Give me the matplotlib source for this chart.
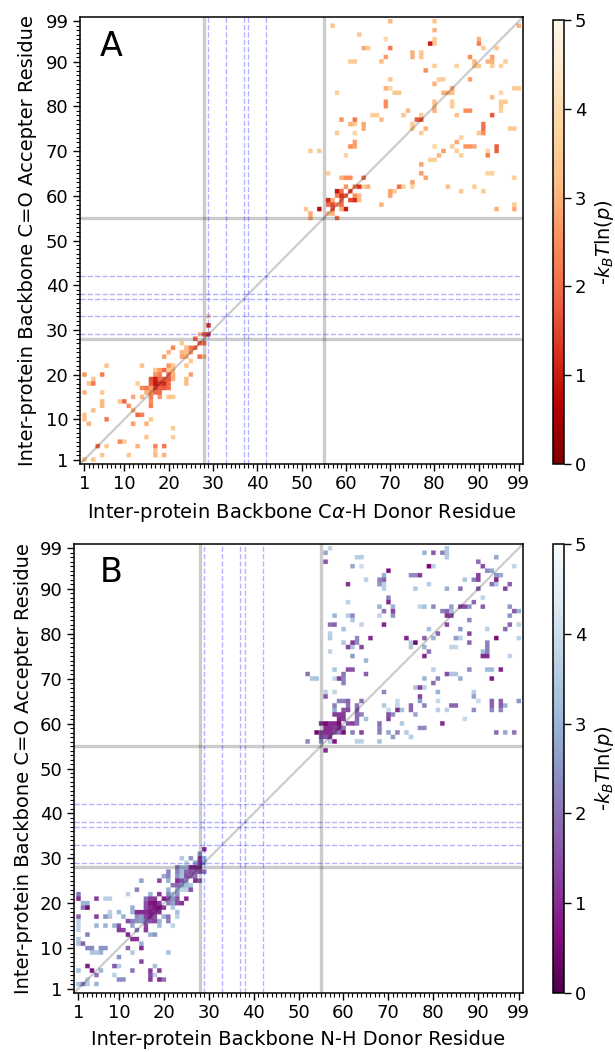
import numpy as np
import matplotlib
matplotlib.use('Agg')
import matplotlib.pyplot as plt

# (donor, acceptor, -kT ln p)
a_low = [
 (29,33,3.7),(29,31,1.2),(27,29,3.3),(28,29,1.9),(29,29,1.5),(26,28,2.0),(23,27,3.5),(27,27,1.9),(28,27,2.2),
 (21,26,2.4),(24,26,3.2),(25,26,2.2),(26,26,2.0),(20,25,3.0),(23,25,3.1),(24,25,3.2),(25,25,2.6),
 (19,24,2.8),(23,24,2.8),(24,24,3.0),(27,24,2.0),(28,24,3.3),(25,23,3.5),
 (6,22,3.3),(14,22,3.3),(20,22,2.6),(21,22,3.5),(24,22,3.4),
 (17,21,3.4),(18,21,2.7),(19,21,2.0),(20,21,3.4),(21,21,3.3),
 (1,20,2.6),(5,20,2.2),(17,20,2.6),(18,20,2.3),(20,20,1.9),(21,20,3.0),(25,20,2.7),
 (3,19,3.3),(16,19,1.6),(17,19,1.0),(18,19,1.9),(19,19,1.8),(20,19,1.7),(21,19,3.0),(24,19,3.2),
 (2,18,3.3),(3,18,2.2),(13,18,3.6),(16,18,1.7),(17,18,0.9),(18,18,1.4),(19,18,1.2),(20,18,2.0),(24,18,3.2),
 (14,17,2.4),(15,17,2.2),(16,17,2.7),(17,17,1.4),(18,17,1.8),(19,17,1.7),(20,17,2.0),
 (1,16,3.0),(5,16,3.5),(15,16,3.0),(16,16,2.6),(17,16,1.9),(18,16,2.0),
 (12,15,2.9),(14,15,3.1),(16,15,2.2),(18,15,2.6),(20,15,3.4),(21,15,3.5),
 (5,14,3.1),(9,14,3.4),(10,14,1.9),(16,14,2.5),(5,13,3.1),(11,13,2.5),(16,13,2.3),
 (3,12,3.2),(12,12,3.0),(1,11,3.3),(13,11,1.9),(14,11,2.3),(1,10,3.3),(6,10,2.2),(16,10,3.5),
 (2,9,3.0),(12,9,2.7),(15,9,3.0),(21,8,3.5),(15,6,3.4),(21,6,3.6),(9,5,2.4),(10,5,3.5),
 (4,4,2.0),(6,4,3.5),(13,4,3.0),(17,4,2.4),(19,4,2.2),(17,3,3.5),
 (5,2,3.4),(11,2,3.4),(17,2,3.1),(19,2,3.0),(1,1,3.4),(3,1,3.4),
]
a_high = [
 (57,98,3.3),(70,99,3.1),(80,99,3.4),(99,98,3.0),(80,97,3.0),(63,96,3.4),(69,95,3.9),(80,95,3.5),(90,95,3.0),
 (79,94,1.0),(80,94,3.5),(90,94,2.3),(64,93,2.9),(65,93,3.5),(70,93,2.2),(91,93,3.5),(94,93,3.5),
 (75,92,3.0),(75,91,3.0),(77,92,3.4),(77,91,3.4),(69,91,2.7),(88,91,2.5),(93,91,2.8),
 (61,90,3.5),(62,90,3.5),(68,90,3.2),(89,90,3.1),(92,90,3.0),(93,90,3.0),(96,90,3.5),
 (89,89,3.4),(90,89,3.4),(93,89,3.6),(95,89,3.7),(80,89,3.6),(85,89,3.6),(78,88,2.5),
 (70,86,3.4),(81,86,3.6),(82,86,3.6),(88,86,2.8),(80,85,3.0),(69,84,3.0),(70,84,3.8),(98,84,3.5),(99,84,3.5),(84,84,2.9),
 (71,83,3.4),(72,83,3.4),(58,83,3.6),(82,83,3.0),(83,83,3.0),(84,83,3.3),(95,83,3.8),(93,82,3.1),
 (69,81,2.5),(69,80,2.5),(80,81,3.3),(80,80,3.3),(84,81,3.6),(84,80,3.6),(95,81,3.5),(96,81,3.5),(95,80,3.5),(95,79,3.7),
 (74,79,3.1),(80,79,3.0),(87,79,2.5),(88,79,2.5),(73,78,3.4),(66,78,3.6),(67,78,3.6),(77,78,3.5),(85,78,3.3),(93,78,1.7),
 (59,77,2.6),(62,77,2.1),(68,77,3.1),(76,77,1.7),(77,77,1.7),(61,76,3.0),(62,76,3.5),(64,76,2.9),(64,75,2.9),
 (75,76,3.5),(75,75,3.5),(91,76,2.1),(91,75,2.1),(78,75,3.0),(97,75,3.5),(98,75,3.5),
 (58,74,3.5),(62,74,3.8),(77,74,3.5),(90,74,3.4),(91,74,2.5),(86,73,3.7),(85,72,2.9),(62,72,2.8),(62,71,2.8),(61,71,2.5),
 (80,71,3.8),(84,71,3.5),(87,71,2.6),(88,71,2.6),(89,71,2.9),(94,71,1.8),(94,70,1.8),
 (82,70,2.7),(85,70,3.6),(92,70,3.7),(92,69,2.3),(52,70,3.5),(54,70,3.5),(60,69,3.7),(81,69,3.1),(86,69,3.6),
 (79,68,3.6),(80,68,3.6),(77,67,2.8),(77,65,2.7),(78,64,2.8),(56,65,3.7),(92,65,3.7),(93,65,3.7),
 (59,64,3.0),(60,64,2.5),(61,64,2.5),(64,64,2.0),(98,64,3.6),(75,63,2.8),(75,62,3.8),(73,62,3.6),(72,62,2.0),
 (65,62,3.0),(64,62,3.7),(60,62,2.6),(62,62,2.2),(63,62,1.3),(83,62,3.2),(89,62,3.5),
 (70,61,2.8),(70,60,2.8),(71,61,3.5),(86,61,3.5),(91,61,3.5),(58,61,0.9),(59,61,2.0),(61,61,1.5),
 (58,60,2.3),(59,60,1.3),(60,60,1.9),(62,60,2.5),(63,60,3.2),(56,59,1.2),(57,59,3.0),(59,59,1.9),(61,59,1.6),(62,59,1.2),(63,59,3.2),
 (56,58,2.0),(57,58,1.6),(58,58,2.6),(59,58,2.0),(68,58,3.0),(98,58,3.5),
 (51,57,3.5),(54,57,0.8),(57,57,1.7),(59,57,3.0),(60,57,1.0),(94,57,3.0),(98,57,2.9),
 (52,56,2.9),(56,56,3.2),(57,56,3.0),(52,55,3.0),(58,55,2.2),
]
b_low = [
 (29,32,1.0),(28,31,2.5),(24,30,3.5),(26,30,2.5),(28,30,1.2),(29,30,3.3),(25,29,3.8),(27,29,2.8),(28,29,1.2),(29,29,2.8),
 (23,28,2.2),(24,28,3.3),(25,28,3.3),(26,28,1.0),(27,28,0.9),(28,28,1.5),
 (21,27,2.3),(23,27,2.2),(24,27,3.2),(25,27,1.8),(26,27,1.5),(27,27,1.7),(28,27,1.6),(29,27,2.0),
 (20,26,2.8),(21,26,2.3),(23,26,2.5),(24,26,3.3),(25,26,1.5),(26,26,1.8),(27,26,2.0),
 (15,25,2.7),(19,25,1.3),(21,25,3.0),(23,25,1.0),(24,25,1.5),(25,25,2.4),(27,25,1.0),(28,25,1.8),
 (22,24,2.0),(23,24,1.8),(24,24,2.5),(25,24,3.2),(26,24,3.4),(14,23,2.2),(21,23,3.0),(23,23,2.8),(24,23,3.8),(25,23,3.7),(26,23,1.5),
 (12,22,3.7),(17,22,3.0),(19,22,1.1),(21,22,2.3),(22,22,3.5),(23,22,2.5),(1,22,2.0),(1,21,1.0),(5,21,1.2),(7,21,3.7),(8,21,3.7),
 (16,21,2.0),(17,21,1.2),(18,21,1.2),(20,21,0.8),(21,21,1.6),(22,21,2.5),(23,21,1.6),(25,21,1.0),
 (2,20,3.0),(3,20,3.0),(16,20,1.5),(17,20,0.7),(18,20,0.6),(19,20,1.2),(21,20,2.2),(22,20,2.7),(23,20,1.5),(24,20,1.1),
 (2,19,2.0),(3,19,0.5),(13,19,2.9),(16,19,1.5),(17,19,1.0),(18,19,0.7),(19,19,0.7),(20,19,1.2),(22,19,3.5),
 (8,18,3.7),(10,18,3.1),(13,18,3.1),(14,18,1.0),(15,18,1.0),(16,18,1.0),(17,18,0.8),(18,18,1.1),(19,18,1.0),(23,18,3.3),
 (1,17,1.7),(5,17,1.2),(7,17,2.5),(8,17,3.5),(11,17,3.0),(14,17,2.4),(15,17,2.7),(16,17,1.3),(17,17,1.0),(18,17,1.5),(20,17,3.0),(21,17,2.0),(23,17,3.7),
 (1,16,3.8),(12,16,1.4),(13,16,2.2),(14,16,2.5),(15,16,2.6),(16,16,1.8),(17,16,1.5),(18,16,1.3),(19,16,3.0),(21,16,2.2),
 (1,15,3.8),(5,15,3.0),(7,15,3.0),(9,15,3.0),(10,15,1.5),(13,15,2.8),(16,15,1.4),(19,15,3.2),(22,15,3.8),
 (1,14,3.8),(10,14,1.2),(11,14,1.3),(14,14,2.3),(16,14,1.2),(3,13,2.2),(12,13,0.9),(17,13,3.0),(18,13,2.5),
 (1,12,3.5),(13,12,1.1),(14,12,1.1),(1,11,3.3),(2,11,1.7),(15,11,3.0),
 (3,10,2.3),(4,10,2.3),(6,10,2.5),(7,10,2.5),(12,10,1.8),(15,10,1.0),(4,9,3.4),(5,9,3.4),(6,9,3.0),(13,9,3.5),(21,9,3.3),
 (10,8,2.5),(15,7,1.4),(3,6,0.8),(9,6,1.6),(10,6,3.5),(18,6,3.3),(1,5,3.3),(4,5,0.7),(6,5,3.0),(13,5,2.0),(17,5,1.2),(19,5,1.2),
 (5,4,2.0),(9,4,3.7),(17,4,1.5),(18,4,3.8),(3,3,3.8),(10,3,2.4),(11,3,2.4),(17,3,1.2),(19,3,1.0),(20,3,2.0),
 (1,2,3.4),(2,2,2.2),(3,2,3.5),(5,2,3.0),
]
b_high = [
 (57,99,3.8),(56,98,2.8),(78,98,3.0),(80,98,1.6),(82,98,2.2),(83,99,3.5),(83,98,3.5),(83,97,3.5),(63,97,3.6),(64,97,3.6),(94,97,2.8),
 (56,96,1.6),(90,96,1.9),(62,95,2.8),(64,95,4.0),(79,95,0.5),(80,95,3.7),(91,95,1.4),(98,95,3.8),
 (70,94,0.7),(92,94,2.3),(93,94,2.8),(69,93,3.0),(75,93,2.4),(76,93,2.4),(77,93,1.2),(90,93,1.2),(94,93,2.5),(95,93,2.8),
 (69,92,1.8),(68,92,2.3),(65,92,3.7),(87,92,3.4),(89,92,2.2),(90,92,1.3),(94,92,0.9),
 (61,91,1.1),(68,91,2.5),(69,91,3.7),(79,91,3.6),(93,91,2.0),(94,91,3.4),(97,91,1.7),
 (69,90,3.7),(76,90,3.5),(83,90,2.9),(86,90,1.9),(90,90,1.7),(96,90,1.3),(70,88,2.2),(91,88,3.8),(61,87,3.7),(89,87,1.8),(70,87,1.0),
 (68,86,3.0),(71,86,3.0),(77,86,3.8),(78,86,3.3),(80,86,2.3),(84,86,2.7),(86,86,1.4),(87,86,1.4),(88,86,2.5),(91,86,1.7),(97,86,2.5),
 (69,85,2.0),(71,85,1.3),(82,85,2.2),(83,85,1.8),(84,85,3.3),(98,85,1.6),(99,85,3.0),
 (58,84,3.0),(61,84,3.6),(62,84,2.4),(68,84,3.8),(71,84,2.5),(83,84,1.1),(84,84,1.4),(97,84,2.5),(62,83,3.5),(88,83,2.3),
 (57,82,2.0),(58,82,1.7),(64,82,3.8),(69,82,0.9),(83,82,1.4),(97,82,1.7),(99,82,3.8),
 (60,81,3.3),(79,81,3.3),(86,81,2.6),(92,81,3.7),(96,81,1.9),(57,80,3.7),(81,80,1.8),(88,80,1.4),
 (57,79,3.5),(63,79,2.4),(66,79,1.0),(74,79,0.9),(78,79,1.8),(80,79,3.0),(85,79,2.6),(86,79,3.7),(94,79,0.6),(99,79,3.7),
 (60,78,3.4),(62,78,1.2),(63,78,2.4),(75,78,3.5),(76,78,0.4),(88,78,1.8),(92,78,2.2),
 (61,77,1.3),(62,77,3.4),(64,77,1.4),(75,77,3.4),(78,77,3.0),(84,77,3.8),(85,77,3.8),(92,77,2.2),
 (57,76,3.8),(79,76,2.0),(91,76,3.2),(92,76,2.2),(62,75,2.6),(78,75,0.9),(91,75,1.0),(92,75,1.0),(97,75,3.7),(65,74,3.0),
 (58,72,3.4),(61,72,1.5),(62,72,1.5),(80,72,3.7),(88,72,2.4),(92,72,3.1),(93,72,3.1),(95,72,0.9),
 (52,71,2.0),(60,71,2.0),(65,71,1.7),(83,71,1.5),(84,71,3.4),(85,71,3.4),
 (53,70,3.4),(54,70,3.3),(58,70,3.8),(59,70,1.2),(60,70,2.3),(78,70,3.0),(81,70,2.3),(86,70,2.9),(93,70,0.8),(60,69,2.2),(80,69,1.9),
 (76,68,3.4),(77,68,1.2),(78,68,3.6),(56,67,3.7),(58,67,3.8),(69,67,2.3),(81,67,3.0),(89,67,3.6),(56,66,1.6),(77,66,1.3),(89,66,2.7),
 (59,65,2.2),(60,65,2.2),(61,65,1.7),(64,65,2.0),(72,65,3.9),(77,65,2.6),(81,65,3.9),(90,65,3.9),(93,65,1.7),(95,65,1.7),(99,65,2.5),
 (58,64,2.2),(61,64,2.0),(63,64,2.0),(69,64,3.5),(72,64,3.9),(75,64,1.8),(78,64,2.2),(84,64,1.8),(85,64,1.8),(93,64,1.7),(95,64,1.7),(96,64,3.0),
 (58,63,2.8),(60,63,1.6),(61,63,1.4),(63,63,1.7),(70,63,3.9),(72,63,1.0),(73,63,3.3),(75,63,1.8),(81,63,3.7),(83,63,3.7),(89,63,2.4),(93,63,2.3),(95,63,2.3),
 (58,62,1.2),(59,62,1.2),(60,62,1.2),(63,62,1.9),(64,62,2.2),(70,62,1.5),(71,62,2.4),(76,62,2.8),
 (59,61,1.0),(60,61,1.2),(63,61,1.9),(65,61,3.2),(70,61,1.3),(87,61,3.9),
 (55,60,1.2),(56,60,0.5),(57,60,1.0),(58,60,1.0),(59,60,0.5),(61,60,1.5),(62,60,1.3),(63,60,2.0),(68,60,2.0),(73,60,3.5),(82,60,1.0),
 (56,59,1.0),(57,59,1.0),(58,59,1.2),(59,59,1.0),(60,59,2.0),(68,59,2.2),(77,59,2.4),(78,59,2.4),
 (54,58,0.5),(55,58,1.5),(56,58,1.0),(57,58,1.0),(58,58,1.5),(59,58,2.0),(60,58,0.6),(62,58,2.2),(64,58,1.3),(68,58,2.2),(70,58,2.8),(72,58,2.2),(74,58,3.5),(94,58,1.9),(96,58,2.8),(98,58,2.0),
 (55,57,1.6),(56,57,1.5),(57,57,1.2),(71,57,2.6),(75,57,3.6),
 (52,56,2.3),(55,56,2.5),(57,56,3.6),(58,56,0.7),(63,56,3.7),(64,56,3.7),(68,56,3.3),(56,54,1.0),
]

ticks = [1, 10, 20, 30, 40, 50, 60, 70, 80, 90, 99]
gray_lines = [28, 55]
blue_lines = [29, 33, 37, 38, 42]

W, H = 615, 1052
fig = plt.figure(figsize=(W / 100, H / 100), dpi=100)


def box(l, t, r, b):
    return [l / W, 1 - b / H, (r - l) / W, (b - t) / H]


def panel(pos, cpos, points, cmap, letter, xlab, ypad):
    ax = fig.add_axes(box(*pos))
    grid = np.full((100, 100), np.nan)
    for d, c, e in points:
        grid[c, d] = e
    # finer grid so the cells get soft edges when resampled, like the original
    fine = np.repeat(np.repeat(grid, 8, axis=0), 8, axis=1)
    colors = plt.get_cmap(cmap).with_extremes(bad='white')
    m = ax.imshow(fine, cmap=colors, vmin=0, vmax=5, origin='lower', extent=(-0.5, 99.5, -0.5, 99.5),
                  aspect='auto', interpolation='hanning', interpolation_stage='rgba')
    ax.plot([0, 100], [0, 100], color='k', alpha=0.2, lw=1.6)
    for v in gray_lines:
        ax.axvline(v, color='k', alpha=0.2, lw=2.4)
        ax.axhline(v, color='k', alpha=0.2, lw=2.4)
    for v in blue_lines:
        ax.axvline(v, color='b', alpha=0.3, lw=1, ls='--')
        ax.axhline(v, color='b', alpha=0.3, lw=1, ls='--')
    ax.set_xlim(0, 100)
    ax.set_ylim(0, 100)
    ax.set_xticks(ticks)
    ax.set_yticks(ticks)
    ax.set_xticks(range(1, 100), minor=True)
    ax.set_yticks(range(1, 100), minor=True)
    ax.tick_params(labelsize=13, length=4.7, width=1, pad=3.5)
    ax.tick_params(which='minor', length=2.8, width=0.8)
    for s in ax.spines.values():
        s.set_linewidth(1.1)
    ax.set_xlabel(xlab, fontsize=14, labelpad=5.5)
    ax.set_ylabel('Inter-protein Backbone C=O Accepter Residue', fontsize=14, labelpad=ypad)
    ax.text(100 / W, 1 - (pos[1] + 29) / H, letter, transform=fig.transFigure, fontsize=24, va='center')
    cax = fig.add_axes(box(*cpos))
    cb = fig.colorbar(m, cax=cax)
    cb.set_ticks([0, 1, 2, 3, 4, 5])
    cb.ax.tick_params(labelsize=13, length=4.7, width=1, pad=3)
    cb.outline.set_linewidth(1.1)
    cb.set_label('-$k_BT$ln($p$)', fontsize=14, labelpad=5)


panel((80, 17, 523, 464), (553, 20, 564, 464), a_low + a_high, 'OrRd_r', 'A',
      'Inter-protein Backbone C$\\alpha$-H Donor Residue', 6)
panel((74, 544, 523, 993), (553, 544, 564, 993), b_low + b_high, 'BuPu_r', 'B',
      'Inter-protein Backbone N-H Donor Residue', 5)

fig.savefig('out.png', dpi=100)
